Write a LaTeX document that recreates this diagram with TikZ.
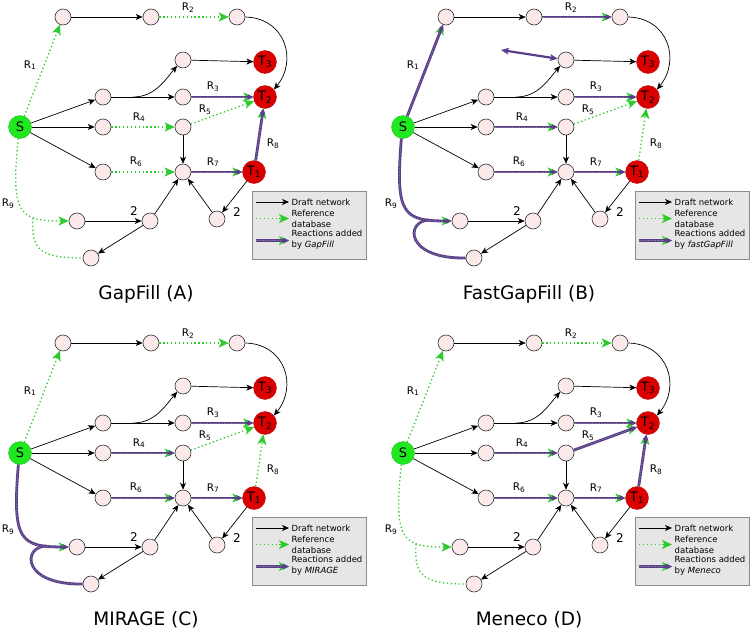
\documentclass[tikz,border=0pt]{standalone}
\usepackage{fontspec}
\setmainfont{DejaVu Sans}
\usetikzlibrary{arrows.meta}
\definecolor{refgreen}{HTML}{2DCB2D}
\definecolor{addpurple}{HTML}{5A3C8C}
\definecolor{addcenter}{HTML}{7E7B8E}
\definecolor{nodepink}{HTML}{FCEAEA}
\definecolor{srcgreen}{HTML}{1FE81F}
\definecolor{tgtred}{HTML}{DA0000}
\definecolor{legfill}{HTML}{E6E6E6}
\definecolor{legdraw}{HTML}{8C8C8C}
\newif\ifloopnine
\newif\ifexch
\tikzset{
  met/.style={circle, draw=black!80, fill=nodepink, minimum size=16pt, inner sep=0pt, line width=0.6pt},
  src/.style={circle, fill=srcgreen, draw=srcgreen!80!black, line width=0.3pt, minimum size=23pt, inner sep=0pt, font=\fontsize{13}{13}\selectfont},
  tgt/.style={circle, fill=tgtred, draw=tgtred!85!black, line width=0.3pt, minimum size=23pt, inner sep=0pt, font=\fontsize{13}{13}\selectfont},
  lbl/.style={font=\fontsize{10.5}{10.5}\selectfont, inner sep=0pt},
  stoich/.style={font=\fontsize{12}{12}\selectfont, inner sep=0pt},
  legtext/.style={font=\fontsize{8.5}{11}\selectfont, inner sep=0pt, anchor=west, align=left},
  ttl/.style={font=\fontsize{18.5}{18.5}\selectfont, inner sep=0pt},
  draft/.style={draw=black, line width=0.7pt, -{Stealth[length=7pt,width=6pt,inset=2pt]}},
  refline/.style={draw=refgreen, line width=1.3pt, dash pattern=on 1.3pt off 2.6pt},
  refr/.style={refline, -{Stealth[length=10pt,width=9pt,inset=2.5pt]}},
  addline/.style={draw=addpurple, line width=2.8pt, postaction={draw=addcenter, line width=0.8pt, dash pattern=on 1.5pt off 1.5pt}},
  addr/.style={preaction={draw=refgreen, line width=1pt, -{Stealth[length=10pt,width=9pt,inset=2.5pt]}}, draw=addpurple, line width=2.8pt, -{Stealth[length=6pt,width=6pt,inset=1.5pt,line width=0pt]}, postaction={draw=addcenter, line width=0.8pt, dash pattern=on 1.5pt off 1.5pt, shorten >=8pt, -}},
  exch/.style={draw=addpurple, line width=2.2pt, {Stealth[length=8pt,width=7pt,inset=2pt,line width=0pt]}-{Stealth[length=8pt,width=7pt,inset=2pt,line width=0pt]}},
  legbox/.style={draw=legdraw, fill=legfill, line width=0.8pt},
}
\newcommand\drawnet[2]{%
  % metabolites
  \node[met] (a1) at (63,17) {};
  \node[met] (a2) at (151,17) {};
  \node[met] (a3) at (237,17) {};
  \node[src] (S) at (20,127) {S};
  \node[met] (b1) at (103,97) {};
  \node[met] (c1) at (183,60) {};
  \node[met] (c2) at (183,97) {};
  \node[tgt] (T3) at (265,62) {T\textsubscript{3}};
  \node[tgt] (T2) at (265,97) {T\textsubscript{2}};
  \node[met] (d1) at (103,127) {};
  \node[met] (d2) at (183,127) {};
  \node[met] (e1) at (103,172) {};
  \node[met] (e2) at (183,172) {};
  \node[tgt] (T1) at (254,172) {T\textsubscript{1}};
  \node[met] (f1) at (77,221) {};
  \node[met] (f2) at (150,221) {};
  \node[met] (g) at (217,219) {};
  \node[met] (h) at (91,258) {};
  \coordinate (bj) at (133,97);
  % draft network
  \draw[draft] (a1) -- (a2);
  \draw[draft] (a3.east) .. controls (285,18) and (298,60) .. (T2.40);
  \draw[draft] (S) -- (b1);
  \draw[draft] (S) -- (d1);
  \draw[draft] (S) -- (e1);
  \draw[draft] (b1) -- (c2);
  \draw[draft] (bj) .. controls (155,97) and (165,80) .. (c1.225);
  \draw[draft] (c1) -- (T3);
  \draw[draft] (d2) -- (e2);
  \draw[draft] (T1) -- (g);
  \draw[draft] (g) -- (e2);
  \draw[draft] (f1) -- (f2);
  \draw[draft] (f2) -- (e2);
  \draw[draft] (f2) -- (h);
  % reactions
  \draw[rone] (S) -- (a1);
  \draw[rtwo] (a2) -- (a3);
  \draw[rthree] (c2) -- (T2);
  \draw[rfour] (d1) -- (d2);
  \draw[rfive] (d2) -- (T2);
  \draw[rsix] (e1) -- (e2);
  \draw[rseven] (e2) -- (T1);
  \draw[reight] (T1) -- (T2);
  \ifloopnine
    \coordinate (r9j) at (46,220);
    \draw[addline] (r9j) .. controls (22,221) and (22,259) .. (h.west);
    \draw[addr] (S.262) .. controls (12,215) and (20,221) .. (f1);
  \else
    \coordinate (r9j) at (33,218);
    \draw[refline] (r9j) .. controls (31,250) and (40,258) .. (h.west);
    \draw[refr] (S.262) .. controls (10,215) and (20,221) .. (f1);
  \fi
  \ifexch
    \coordinate (ex) at (118,50);
    \draw[exch] (ex) -- (c1);
  \fi
  % labels
  \node[lbl] (lR1) at (30,65) {R\textsubscript{1}};
  \node[lbl] (lR2) at (188,8) {R\textsubscript{2}};
  \node[lbl] (lR3) at (213,87) {R\textsubscript{3}};
  \node[lbl] (lR4) at (139,117) {R\textsubscript{4}};
  \node[lbl] (lR5) at (205,110) {R\textsubscript{5}};
  \node[lbl] (lR6) at (136,162) {R\textsubscript{6}};
  \node[lbl] (lR7) at (213,162) {R\textsubscript{7}};
  \node[lbl] (lR8) at (273,144) {R\textsubscript{8}};
  \node[lbl] (lR9) at (8,204) {R\textsubscript{9}};
  \node[stoich] (s1) at (134,211) {2};
  \node[stoich] (s2) at (237,212) {2};
  % legend
  \node[legbox, minimum width=114pt, minimum height=68pt, anchor=north west, inner sep=0pt] (leg) at (252,191) {};
  \coordinate (l1a) at (256,202); \coordinate (l1b) at (289,202);
  \draw[draft] (l1a) -- (l1b);
  \node[legtext] (lt1) at (291.5,202) {Draft network};
  \coordinate (l2a) at (256,218.5); \coordinate (l2b) at (289,218.5);
  \draw[refr] (l2a) -- (l2b);
  \node[legtext] (lt2) at (291.5,219) {Reference\\database};
  \coordinate (l3a) at (256,240.5); \coordinate (l3b) at (289,240.5);
  \draw[addr] (l3a) -- (l3b);
  \node[legtext] (lt3) at (291.5,240) {Reactions added\\by \textit{#2}};
  % title
  \node[ttl] (title) at (146,294) {#1};
}
\begin{document}
\begin{tikzpicture}[x=1pt,y=-1pt]
\useasboundingbox[fill=white] (0,0) rectangle (750,632);
\begin{scope}[name prefix=A-]
  \tikzset{rone/.style=refr, rtwo/.style=refr, rthree/.style=addr, rfour/.style=refr, rfive/.style=refr, rsix/.style=refr, rseven/.style=addr, reight/.style=addr}
  \loopninefalse\exchfalse
  \drawnet{GapFill (A)}{GapFill}
\end{scope}
\begin{scope}[shift={(383,0)}, name prefix=B-]
  \tikzset{rone/.style=addr, rtwo/.style=addr, rthree/.style=addr, rfour/.style=addr, rfive/.style=refr, rsix/.style=addr, rseven/.style=addr, reight/.style=refr}
  \loopninetrue\exchtrue
  \drawnet{FastGapFill (B)}{fastGapFill}
\end{scope}
\begin{scope}[shift={(0,326)}, name prefix=C-]
  \tikzset{rone/.style=refr, rtwo/.style=refr, rthree/.style=addr, rfour/.style=addr, rfive/.style=refr, rsix/.style=addr, rseven/.style=addr, reight/.style=refr}
  \loopninetrue\exchfalse
  \drawnet{MIRAGE (C)}{MIRAGE}
\end{scope}
\begin{scope}[shift={(383,326)}, name prefix=D-]
  \tikzset{rone/.style=refr, rtwo/.style=refr, rthree/.style=addr, rfour/.style=addr, rfive/.style=addr, rsix/.style=addr, rseven/.style=addr, reight/.style=addr}
  \loopninefalse\exchfalse
  \drawnet{Meneco (D)}{Meneco}
\end{scope}
\end{tikzpicture}
\end{document}
